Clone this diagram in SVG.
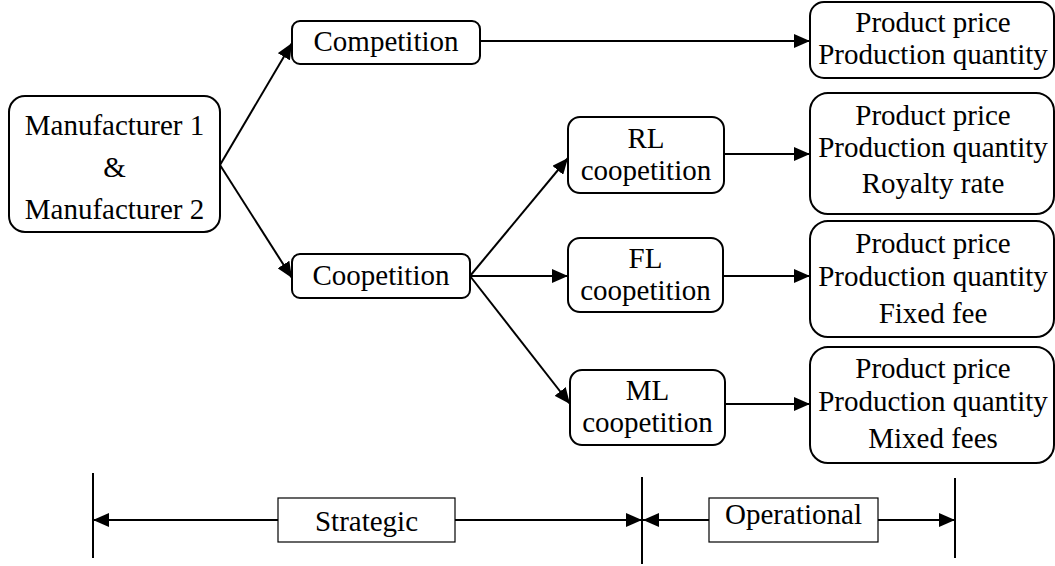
<svg xmlns="http://www.w3.org/2000/svg" width="1055" height="566" viewBox="0 0 1055 566">
  <style>
    .box { fill: #fff; stroke: #000; stroke-width: 2; }
    .label { font-family: 'Liberation Serif', 'Times New Roman', Times, 'DejaVu Serif', serif; font-size: 29px; fill: #000; text-anchor: middle; }
    .wire { fill: none; stroke: #000; stroke-width: 2; }
    .arrow { marker-end: url(#head); }
  </style>
  <defs>
    <marker id="head" markerUnits="userSpaceOnUse" markerWidth="16" markerHeight="14" viewBox="0 0 16 14" refX="16" refY="7" orient="auto">
      <path d="M0,0 L16,7 L0,14 Z" fill="#000"/>
    </marker>
  </defs>
  <rect width="1055" height="566" fill="#fff"/>

  <!-- connectors -->
  <g id="connectors">
    <line class="wire arrow" x1="220" y1="165" x2="292" y2="43"/>
    <line class="wire arrow" x1="220" y1="165" x2="292" y2="278"/>
    <line class="wire arrow" x1="480" y1="41" x2="810" y2="41"/>
    <line class="wire arrow" x1="470" y1="276" x2="568" y2="158"/>
    <line class="wire arrow" x1="470" y1="276" x2="568" y2="276"/>
    <line class="wire arrow" x1="470" y1="276" x2="570" y2="404"/>
    <line class="wire arrow" x1="724" y1="154" x2="810" y2="154"/>
    <line class="wire arrow" x1="723" y1="276" x2="810" y2="276"/>
    <line class="wire arrow" x1="725" y1="404" x2="810" y2="404"/>
  </g>

  <g font-family="Liberation Serif, serif">
  <g id="manufacturers">
    <rect class="box" x="9" y="96" width="211" height="136" rx="16"/>
    <text class="label" x="114.5" y="135">Manufacturer 1</text>
    <text class="label" x="114.5" y="177">&amp;</text>
    <text class="label" x="114.5" y="219">Manufacturer 2</text>
  </g>

  <g id="competition">
    <rect class="box" x="292" y="21" width="188" height="43" rx="8"/>
    <text class="label" x="386" y="51">Competition</text>
  </g>

  <g id="coopetition">
    <rect class="box" x="292" y="254" width="178" height="44" rx="8"/>
    <text class="label" x="381" y="285">Coopetition</text>
  </g>

  <g id="rl-coopetition">
    <rect class="box" x="568" y="117" width="156" height="76" rx="12"/>
    <text class="label" x="646" y="148">RL</text>
    <text class="label" x="646" y="180">coopetition</text>
  </g>

  <g id="fl-coopetition">
    <rect class="box" x="568" y="238" width="155" height="74" rx="12"/>
    <text class="label" x="645.5" y="268">FL</text>
    <text class="label" x="645.5" y="300">coopetition</text>
  </g>

  <g id="ml-coopetition">
    <rect class="box" x="570" y="370" width="155" height="75" rx="12"/>
    <text class="label" x="647.5" y="400">ML</text>
    <text class="label" x="647.5" y="432">coopetition</text>
  </g>

  <g id="decisions-competition">
    <rect class="box" x="810" y="2" width="244" height="76" rx="14"/>
    <text class="label" x="933" y="32">Product price</text>
    <text class="label" x="933" y="64">Production quantity</text>
  </g>

  <g id="decisions-rl">
    <rect class="box" x="810" y="93" width="244" height="121" rx="18"/>
    <text class="label" x="933" y="125">Product price</text>
    <text class="label" x="933" y="157">Production quantity</text>
    <text class="label" x="933" y="193">Royalty rate</text>
  </g>

  <g id="decisions-fl">
    <rect class="box" x="810" y="221" width="244" height="116" rx="18"/>
    <text class="label" x="933" y="253">Product price</text>
    <text class="label" x="933" y="286">Production quantity</text>
    <text class="label" x="933" y="323">Fixed fee</text>
  </g>

  <g id="decisions-ml">
    <rect class="box" x="810" y="347" width="244" height="116" rx="18"/>
    <text class="label" x="933" y="378">Product price</text>
    <text class="label" x="933" y="411">Production quantity</text>
    <text class="label" x="933" y="448">Mixed fees</text>
  </g>

  <!-- horizon scale -->
  <g id="horizon">
    <line class="wire" x1="93" y1="473" x2="93" y2="558"/>
    <line class="wire" x1="642" y1="477" x2="642" y2="564"/>
    <line class="wire" x1="955" y1="478" x2="955" y2="558"/>
    <line class="wire arrow" x1="278" y1="520" x2="93" y2="520"/>
    <line class="wire arrow" x1="455" y1="520" x2="642" y2="520"/>
    <line class="wire arrow" x1="709" y1="520" x2="643" y2="520"/>
    <line class="wire arrow" x1="878" y1="520" x2="955" y2="520"/>
  </g>

  <g id="strategic">
    <rect x="278" y="498" width="177" height="44" fill="#fff" stroke="#000" stroke-width="1.2"/>
    <text class="label" x="366.5" y="531">Strategic</text>
  </g>

  <g id="operational">
    <rect x="709" y="498" width="169" height="44" fill="#fff" stroke="#000" stroke-width="1.2"/>
    <text class="label" x="793.5" y="524">Operational</text>
  </g>
  </g>
</svg>
